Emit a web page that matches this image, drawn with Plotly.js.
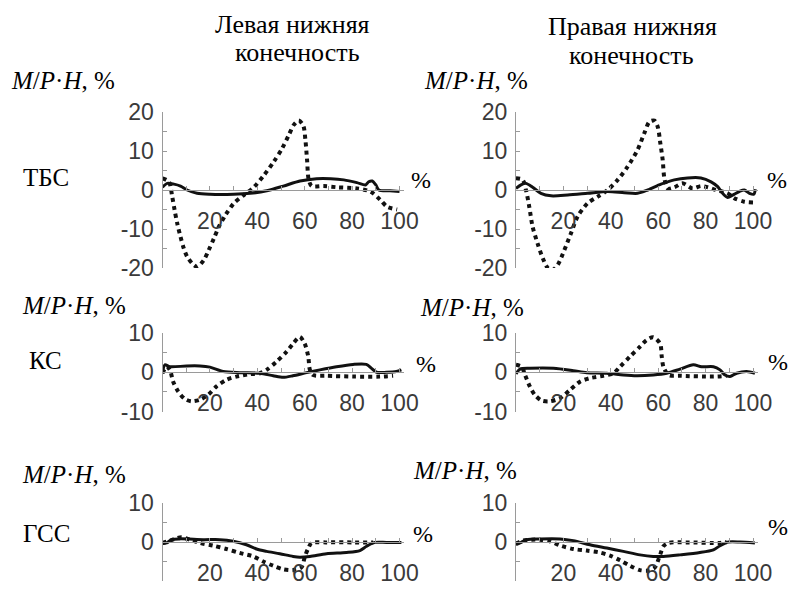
<!DOCTYPE html>
<html>
<head>
<meta charset="utf-8">
<script src="https://cdn.plot.ly/plotly-3.0.1.min.js"></script>
<style>html,body{margin:0;padding:0;background:#fff;}#chart{width:790px;height:591px;}</style>
</head>
<body>
<div id="chart"></div>
<script>
// ---------- DATA ----------
const rowLabels = ['ТБС', 'КС', 'ГСС'];
const colTitlesTop = ['Левая нижняя', 'Правая нижняя'];
const colTitlesBottom = ['конечность', 'конечность'];
const yUnitLabel = '<i>M</i>/<i>P</i>·<i>H</i>, %';
const xUnitLabel = '%';

const xTickVals = [10, 20, 30, 40, 50, 60, 70, 80, 90, 100];
const xTickText = ['', '20', '', '40', '', '60', '', '80', '', '100'];
const yTickVals20 = [-20, -15, -10, -5, 0, 5, 10, 15, 20];
const yTickText20 = ['-20', '', '-10', '', '0', '', '10', '', '20'];
const yTickVals10 = [-10, -5, 0, 5, 10];
const yTickText10 = ['-10', '', '0', '', '10'];

// ТБС, left limb
const tbsLeftDotX = [0, 2.7, 4.1, 5.1, 6.2, 7.6, 9, 10.4, 12.5, 14.6, 17.4, 19.5, 21.7, 23.8, 26.6, 30.1, 34.3, 38.5, 42.8, 47, 50.5, 53.3, 55.4, 57.5, 59.4, 60.3, 61, 61.7, 63, 68, 73.7, 82, 87.8, 92, 94.8, 99];
const tbsLeftDotY = [3, 2.1, -1.7, -5.1, -8.5, -12, -15, -17.1, -18.8, -19.7, -18, -15.4, -12.4, -9.4, -6.4, -3.4, -1.3, 0.7, 3.8, 7.3, 10.7, 14.1, 16.7, 17.8, 16.5, 12.8, 7.7, 2.6, 1, 1, 0.7, 0.4, -0.4, -2.6, -4.3, -5];
const tbsLeftSolidX = [0, 2, 4.8, 7.6, 10.4, 14.6, 20, 30, 37, 44, 51, 58, 65, 71, 76.5, 82, 85.7, 87, 88.5, 90, 91.3, 96, 100];
const tbsLeftSolidY = [0.7, 1.7, 1.5, 1, 0, -0.85, -1.1, -1.1, -0.85, -0.2, 1, 2.3, 2.9, 2.9, 2.6, 1.9, 1.3, 2.1, 2.3, 1.3, 0, -0.2, -0.4];

// ТБС, right limb
const tbsRightDotX = [0, 2.8, 4.2, 5.6, 7, 9.1, 11.3, 13.4, 15.5, 17.6, 20.4, 23.2, 26, 30.2, 34.5, 38.7, 42.9, 47.1, 51.3, 54.1, 56.3, 58.4, 59.8, 60.9, 61.9, 62.6, 64, 66.8, 70.3, 74.5, 78, 80.9, 84.4, 89.3, 92.1, 96.3, 100];
const tbsRightDotY = [3, 2.6, 0, -4.3, -9.4, -13.7, -17.5, -20, -20.5, -19.2, -15.4, -11.1, -6.8, -3.4, -1.7, 0, 2.6, 6, 10.3, 14.5, 17.5, 17.8, 16.2, 12, 7.7, 3, 0.4, 0.7, 1.7, 0.4, 1, 0.7, 0, -0.85, -2.1, -3, -3.2];
const tbsRightSolidX = [0, 2.1, 4.2, 7, 10.5, 14.8, 21.8, 30.2, 38.7, 45.7, 51.3, 55.6, 61.2, 66.8, 72.4, 78, 82.3, 85.1, 87.2, 89.3, 91.4, 94.2, 96.3, 98.5, 100.3, 101];
const tbsRightSolidY = [0.4, 1.3, 1.7, 0.7, -0.85, -1.5, -1.3, -0.85, -0.4, -0.7, -0.85, 0, 1.5, 2.6, 3.1, 3.1, 2.1, 0.85, -0.85, -1.9, -1.3, -0.4, 0, -0.85, -1.1, 0.2];

// КС, left limb
const ksLeftDotX = [0, 1.7, 3.1, 4.5, 6.6, 9.4, 12.2, 15.8, 19.3, 22.8, 27, 31.2, 36.8, 41.1, 43.9, 48.1, 52.3, 55.1, 57.9, 60, 61.5, 62.2, 63.6, 69.2, 80.5, 91.7, 97.3];
const ksLeftDotY = [-0.25, 1.4, 0.6, -2.4, -4.9, -6.8, -7.4, -7, -5.7, -3.6, -1.9, -1.1, -0.5, -0.25, 0.6, 2.7, 5.2, 7.3, 9, 7.3, 4, 0.6, -0.7, -0.9, -1.1, -1.1, -0.9];
const ksLeftSolidX = [0, 1, 3.1, 10.1, 15.8, 20, 25.6, 32.6, 41, 46.7, 50.9, 55, 60.8, 66.4, 73.4, 80.4, 86, 88.2, 90.3, 94.5, 98.7, 100.8];
const ksLeftSolidY = [-0.25, 1.9, 1.4, 1.6, 1.6, 1.3, 0.2, -0.1, -0.25, -0.9, -1.3, -0.9, -0.1, 0.6, 1.4, 2, 2, 1, 0, 0, 0.2, 0.6];

// КС, right limb
const ksRightDotX = [0, 2.4, 3.8, 5.9, 8, 10.8, 14.3, 18.6, 22.8, 27, 31.2, 36.8, 41.1, 43.9, 48.1, 52.3, 55.1, 57.9, 60.8, 61.5, 62.2, 64.3, 69.2, 83.3, 88.9];
const ksRightDotY = [1.9, 1.4, -0.7, -3.7, -5.8, -7.2, -7.4, -6.6, -4.5, -2.4, -1.5, -0.9, -0.25, 1.4, 4, 6.5, 8.2, 8.9, 7.3, 4, 1.4, -0.7, -0.9, -1.1, -0.9];
const ksRightSolidX = [0, 1.7, 5.9, 15.8, 24.2, 29.8, 38.3, 45.3, 50.9, 57.9, 63.6, 69.2, 74.8, 78.3, 83.3, 86.1, 88.2, 90.3, 93.1, 97.3, 100.8];
const ksRightSolidY = [-0.4, 0.8, 1, 1, 0.4, -0.1, -0.25, -0.7, -0.9, -0.7, -0.25, 0.8, 1.9, 1.4, 1.4, 0.6, -0.7, -1.1, -0.25, 0.2, -0.25];

// ГСС, left limb
const gssLeftDotX = [0, 2.4, 5.2, 8, 11.5, 15.8, 21.4, 27, 32.6, 38.3, 42.5, 46.7, 50.9, 55.1, 58.6, 60.1, 61.5, 62.9, 69.2, 80.4, 88.9];
const gssLeftDotY = [-0.25, 0.2, 0.8, 1.2, 0.6, -0.25, -0.95, -1.8, -2.8, -3.7, -5, -6.1, -7, -7.2, -6.5, -3.7, -1.6, -0.25, -0.1, -0.1, -0.1];
const gssLeftSolidX = [0, 1.7, 3.8, 7.3, 17.2, 24.2, 29.8, 35.4, 39.7, 43.9, 49.5, 55.1, 57.9, 62.2, 69.2, 77.6, 83.3, 86.1, 89.6, 94.5, 100.8];
const gssLeftSolidY = [-0.4, -0.25, 0.6, 0.8, 0.6, 0.6, 0.2, -0.7, -1.8, -2.4, -3, -3.7, -3.9, -3.7, -3, -2.7, -2.2, -1.1, -0.1, -0.1, -0.1];

// ГСС, right limb
const gssRightDotX = [0, 3.1, 6.6, 10.1, 14.3, 18.6, 24.2, 29.8, 35.4, 39.7, 43.9, 48.1, 52.3, 55.8, 58.6, 60.8, 62.2, 64.3, 72, 86.1, 88.9];
const gssRightDotY = [-0.4, 0.4, 0.6, 0.6, 0.2, -0.9, -1.8, -2.2, -2.7, -3.5, -4.7, -6.1, -7.2, -7.3, -6.5, -3.3, -1.1, -0.25, -0.1, -0.25, 0];
const gssRightSolidX = [0, 1.7, 4.5, 10.1, 18.6, 24.2, 31.2, 38.3, 45.3, 52.3, 57.9, 62.2, 69.2, 77.6, 83.3, 86.1, 89.6, 94.5, 100.8];
const gssRightSolidY = [-0.7, -0.25, 0.6, 0.8, 0.8, 0.35, -0.7, -1.55, -2.4, -3.3, -3.7, -3.7, -3.3, -2.7, -2, -0.95, 0, 0, -0.25];

// ---------- LAYOUT / DRAWING ----------
const W = 790, H = 591;
const fx = px => px / W;
const fy = px => 1 - px / H;

const colDomains = [[fx(162.5), fx(162.5 + 2.37 * 102)], [fx(516), fx(516 + 2.37 * 102)]];
const rowSpecs = [
  {top: 112, bottom: 268, range: [-20, 20], tv: yTickVals20, tt: yTickText20},
  {top: 333, bottom: 411.5, range: [-10, 10], tv: yTickVals10, tt: yTickText10},
  {top: 503, bottom: 581, range: [-10, 10], tv: yTickVals10, tt: yTickText10}
];
const series = [
  [[tbsLeftSolidX, tbsLeftSolidY, tbsLeftDotX, tbsLeftDotY], [tbsRightSolidX, tbsRightSolidY, tbsRightDotX, tbsRightDotY]],
  [[ksLeftSolidX, ksLeftSolidY, ksLeftDotX, ksLeftDotY], [ksRightSolidX, ksRightSolidY, ksRightDotX, ksRightDotY]],
  [[gssLeftSolidX, gssLeftSolidY, gssLeftDotX, gssLeftDotY], [gssRightSolidX, gssRightSolidY, gssRightDotX, gssRightDotY]]
];

const axisColor = '#9a9a9a';
const tickFont = {family: 'Liberation Sans', size: 23, color: '#3a3a3a'};
const textFamily = 'Liberation Serif';

const layout = {
  width: W, height: H,
  margin: {l: 0, r: 0, t: 0, b: 0},
  font: {family: textFamily, color: '#000000'},
  paper_bgcolor: '#ffffff', plot_bgcolor: 'rgba(0,0,0,0)',
  showlegend: false,
  annotations: []
};
const traces = [];

let n = 0;
for (let r = 0; r < 3; r++) {
  const rs = rowSpecs[r];
  const yDom = [fy(rs.bottom), fy(rs.top)];
  const zeroPos = fy((rs.top + rs.bottom) / 2);
  for (let c = 0; c < 2; c++) {
    n++;
    const xa = 'xaxis' + (n === 1 ? '' : n), ya = 'yaxis' + (n === 1 ? '' : n);
    const xr = 'x' + (n === 1 ? '' : n), yr = 'y' + (n === 1 ? '' : n);
    layout[xa] = {
      domain: colDomains[c], range: [0, 102], anchor: 'free', position: zeroPos,
      showline: true, linecolor: axisColor, linewidth: 1, showgrid: false, zeroline: false,
      ticks: 'inside', ticklen: 4, tickcolor: axisColor, tickwidth: 1,
      tickmode: 'array', tickvals: xTickVals, ticktext: xTickText,
      tickfont: tickFont, ticklabelstandoff: 10, fixedrange: true
    };
    layout[ya] = {
      domain: yDom, range: rs.range, anchor: xr,
      showline: true, linecolor: axisColor, linewidth: 1, showgrid: false, zeroline: false,
      ticks: 'inside', ticklen: 4, tickcolor: axisColor, tickwidth: 1,
      tickmode: 'array', tickvals: rs.tv, ticktext: rs.tt,
      tickfont: tickFont, ticklabelstandoff: 3, fixedrange: true
    };
    const s = series[r][c];
    traces.push({x: s[2], y: s[3], xaxis: xr, yaxis: yr, type: 'scatter', mode: 'lines',
      line: {color: '#111', width: 4, dash: '4px,4px', shape: 'spline', smoothing: 0.8}, hoverinfo: 'skip'});
    traces.push({x: s[0], y: s[1], xaxis: xr, yaxis: yr, type: 'scatter', mode: 'lines',
      line: {color: '#111', width: 3, shape: 'spline', smoothing: 0.8}, hoverinfo: 'skip'});
  }
}

function addText(text, px, py, size) {
  layout.annotations.push({text: text, xref: 'paper', yref: 'paper', x: fx(px), y: fy(py),
    xanchor: 'center', yanchor: 'middle', showarrow: false,
    font: {family: textFamily, size: size, color: '#000000'}});
}
// column titles
addText(colTitlesTop[0], 292, 24, 26);
addText(colTitlesBottom[0], 297, 52, 26);
addText(colTitlesTop[1], 632, 26, 26);
addText(colTitlesBottom[1], 631, 55, 26);
// y unit labels
addText(yUnitLabel, 63, 81, 25);
addText(yUnitLabel, 476, 81, 25);
addText(yUnitLabel, 74, 305, 25);
addText(yUnitLabel, 472, 307, 25);
addText(yUnitLabel, 74, 474, 25);
addText(yUnitLabel, 465, 470, 25);
// row labels
addText(rowLabels[0], 46, 177, 25);
addText(rowLabels[1], 45, 360, 25);
addText(rowLabels[2], 46, 533, 25);
// x unit labels
addText(xUnitLabel, 421, 180, 24);
addText(xUnitLabel, 777, 180, 24);
addText(xUnitLabel, 426, 364, 24);
addText(xUnitLabel, 778, 362, 24);
addText(xUnitLabel, 423, 534, 24);
addText(xUnitLabel, 778, 527, 24);

Plotly.newPlot('chart', traces, layout, {staticPlot: true, displayModeBar: false}).then(gd => {
  gd.querySelectorAll('.annotation-text').forEach(el => {
    el.style.fontFamily = "'Liberation Serif', 'Times New Roman', serif";
  });
});
</script>
</body>
</html>
